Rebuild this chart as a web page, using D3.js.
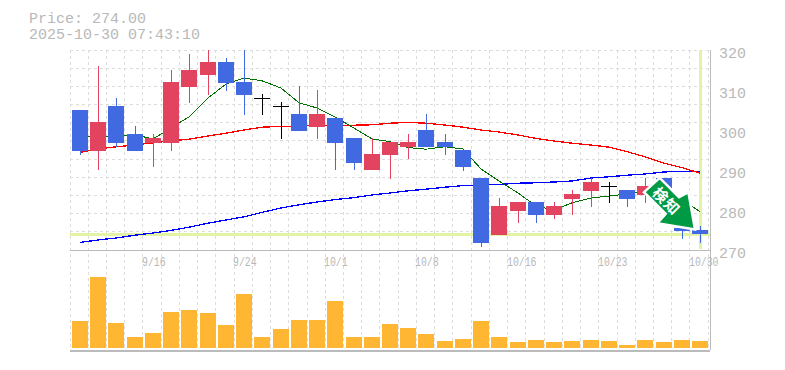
<!DOCTYPE html>
<html>
<head>
<meta charset="utf-8">
<script src="https://cdn.jsdelivr.net/npm/d3@7"></script>
<style>
  html, body { margin: 0; padding: 0; background: #fff; }
  svg { display: block; }
  text { font-family: "Liberation Mono", monospace; fill: #b8b8b8; }
</style>
</head>
<body>
<div class="canva"></div>
<script>
const titleLines = ['Price: 274.00', '2025-10-30 07:43:10']

const opens  = [305,294.75,306,299,296.75,296.75,310.75,313.75,317,312,308,306,304,300.75,303,298,290,293.75,295.75,300,297,295,288,273.75,279.75,282,278.75,282.75,284.75,286,285,283.75,288,275.5,275]
const highs  = [305,316,308,301,299,315,319,320,318,320,309,307,311,310,303,298,298,297,299,304,299,295,288,283,282,282,282,285,288,287,285,288,288,275.5,276]
const lows   = [293.8,290,295.8,294.75,290.75,294.75,306.75,308.75,309.75,303.75,303.75,297.75,299.75,297.75,290,290,290,287.75,292.75,295.75,293.75,289.75,270.8,273.75,276.75,276.75,277.75,278.75,280.75,281.75,280.75,281.75,283,272.75,271.75]
const closes = [294.75,302,296.75,294.75,298,312,315,317,311.75,308.75,308,306,299.75,304,296.75,291.75,294,297,297,295.75,295.75,290.75,271.75,281,282,278.75,281,284,287,286,282.75,286,285,274.75,274]

const maShort = [298.5,298.25,298.5,298.8,297.75,300.5,303.3,308,311.5,313,312.3,310.5,306.8,305.5,303.25,300.5,297.75,297.1,295.6,295.2,295.8,295.25,290.25,287.25,284.25,281,280,281.8,283,283.5,284,284.75,285,282.5,279.6]
const maMid   = [294.4,295.3,295.8,296.25,296.8,297.3,297.7,298.5,299.2,300,300.7,300.9,301,301.2,301.2,301.2,301.3,301.7,301.9,301.7,301.25,300.7,300,299.5,298.75,297.9,297.25,296.7,296.25,295.7,294.6,293.3,291.7,290.6,289.2]
const maLong  = [271.9,272.5,273,273.7,274.25,274.9,275.7,276.7,277.5,278.3,279.4,280.5,281.3,282,282.6,283.1,283.75,284.25,284.8,285.2,285.7,286.1,286.25,286.4,286.7,286.8,287,287.25,288,288.3,288.7,289,289.5,289.7,289.7]

const volume = [27,71,25,11,15,36,38,35,23,54,11,19,28,28,47,11,11,24,20,14,7,9,27,11,6,8,6,7,8,7,3,8,6,8,7]

const dates = ['9/16','9/24','10/1','10/8','10/16','10/23','10/30']
const dateIdx = [4,9,14,19,24,29,34]
const priceTicks = [270,280,290,300,310,320]
const lastPrice = 274

const upColor = '#e2445f'
const downColor = '#4169e1'
const gridColor = '#ddd'
const axisColor = '#bbb'
const markColor = '#e2f3a3'

const width = 785
const height = 370
const plotLeft = 70, plotRight = 710, plotTop = 50, plotMid = 250, plotBottom = 350

const svg = d3.select('.canva').append('svg')
    .attr('width', width)
    .attr('height', height)

const idx = d3.range(closes.length)

const x = d3.scaleBand()
    .domain(idx)
    .range([plotLeft + 0.9, plotRight - 0.9])
const cx = i => Math.round(x(i) + x.bandwidth() / 2)
const y = d3.scaleLinear().domain([270, 320]).range([plotMid, plotTop])
const yVol = d3.scaleLinear().domain([0, 100]).range([plotBottom - 2, plotMid - 2])

// grid
const grid = svg.append('g')
    .attr('stroke', gridColor)
    .attr('stroke-dasharray', '3,3')
    .attr('shape-rendering', 'crispEdges')

grid.selectAll('.v')
    .data(d3.range(closes.length + 1))
    .enter().append('line')
    .attr('class', 'v')
    .attr('x1', d => plotLeft + d * x.step())
    .attr('x2', d => plotLeft + d * x.step())
    .attr('y1', plotTop)
    .attr('y2', plotBottom)

const rows = d3.scaleLinear().domain([0, 11]).range([plotTop, plotMid])
grid.selectAll('.h')
    .data(d3.range(11))
    .enter().append('line')
    .attr('class', 'h')
    .attr('x1', plotLeft)
    .attr('x2', plotRight)
    .attr('y1', d => rows(d))
    .attr('y2', d => rows(d))

// frame
const frame = svg.append('g')
    .attr('stroke', axisColor)
    .attr('shape-rendering', 'crispEdges')
frame.append('line').attr('x1', plotLeft).attr('x2', plotRight).attr('y1', plotMid).attr('y2', plotMid)
frame.append('line').attr('x1', plotLeft).attr('x2', plotRight).attr('y1', plotBottom).attr('y2', plotBottom)
frame.append('line').attr('x1', plotLeft).attr('x2', plotRight).attr('y1', plotBottom + 1).attr('y2', plotBottom + 1)
frame.append('line').attr('x1', plotRight).attr('x2', plotRight).attr('y1', plotTop).attr('y2', plotBottom)

// current price / time markers
svg.append('rect')
    .attr('x', plotLeft)
    .attr('width', plotRight - plotLeft)
    .attr('y', y(lastPrice) - 1)
    .attr('height', 3)
    .attr('fill', markColor)
svg.append('rect')
    .attr('x', cx(34) - 1)
    .attr('width', 3)
    .attr('y', plotTop)
    .attr('height', plotMid - plotTop - 1)
    .attr('fill', markColor)

// moving averages, stepped like the original
const line = d3.line().x((d, i) => cx(i)).y(d => y(d))
const maGroup = svg.append('g')
    .attr('fill', 'none')
    .attr('shape-rendering', 'crispEdges')
maGroup.append('path').attr('d', line(maLong)).attr('stroke', '#0000ff').attr('stroke-width', 1.3)
maGroup.append('path').attr('d', line(maMid)).attr('stroke', '#ff0000').attr('stroke-width', 1.3)
maGroup.append('path').attr('d', line(maShort)).attr('stroke', '#007000').attr('stroke-width', 1)

// candles, black when open == close
const colorOf = i => closes[i] > opens[i] ? upColor : (closes[i] < opens[i] ? downColor : '#000')

const candles = svg.append('g').attr('shape-rendering', 'crispEdges')
candles.selectAll('.wick')
    .data(idx)
    .enter().append('line')
    .attr('class', 'wick')
    .attr('x1', d => cx(d) + 0.5)
    .attr('x2', d => cx(d) + 0.5)
    .attr('y1', d => y(highs[d]))
    .attr('y2', d => y(lows[d]))
    .attr('stroke', d => colorOf(d))
candles.selectAll('.body')
    .data(idx)
    .enter().append('rect')
    .attr('class', 'body')
    .attr('x', d => cx(d) - 8)
    .attr('width', 16)
    .attr('y', d => y(Math.max(opens[d], closes[d])))
    .attr('height', d => Math.max(1, Math.abs(y(opens[d]) - y(closes[d]))))
    .attr('fill', d => colorOf(d))

// volume
svg.append('g').attr('shape-rendering', 'crispEdges')
    .selectAll('rect')
    .data(volume)
    .enter().append('rect')
    .attr('x', (d, i) => cx(i) - 8)
    .attr('width', 16)
    .attr('y', d => yVol(d))
    .attr('height', d => yVol(0) - yVol(d))
    .attr('fill', '#ffb733')

// signal arrow, placed relative to the last candle
const arrow = svg.append('g')
    .attr('transform', `translate(${cx(34) - 5}, ${y(lastPrice) - 4.5})`)
const arrowPath = 'M0,0 L-37.6,-6.3 L-29.3,-15.6 L-51,-37.3 L-35.3,-51.6 L-16,-32.3 L-6.6,-37.3 Z'
arrow.append('path')
    .attr('d', arrowPath)
    .attr('fill', '#009944')
    .attr('stroke', '#fff')
    .attr('stroke-width', 2.5)
arrow.append('text')
    .attr('transform', 'translate(-29, -28) rotate(45)')
    .attr('text-anchor', 'middle')
    .attr('y', 5)
    .style('font-family', '"Noto Sans CJK JP"')
    .style('font-weight', 'bold')
    .style('font-size', '15px')
    .style('letter-spacing', '1px')
    .style('fill', '#fff')
    .text('検知')

// labels
svg.selectAll('.title')
    .data(titleLines)
    .enter().append('text')
    .attr('class', 'title')
    .attr('x', 29)
    .attr('y', (d, i) => 22.5 + i * 16)
    .attr('textLength', d => d.length * 9)
    .attr('lengthAdjust', 'spacingAndGlyphs')
    .style('font-size', '14px')
    .text(d => d)

svg.selectAll('.price')
    .data(priceTicks)
    .enter().append('text')
    .attr('class', 'price')
    .attr('x', 719)
    .attr('y', d => y(d) + 8)
    .style('font-size', '15px')
    .text(d => d)

svg.selectAll('.date')
    .data(dates)
    .enter().append('text')
    .attr('class', 'date')
    .attr('x', (d, i) => cx(dateIdx[i]) - 11)
    .attr('y', 266)
    .attr('textLength', d => d.length * 5.9)
    .attr('lengthAdjust', 'spacingAndGlyphs')
    .style('font-size', '12px')
    .text(d => d)
</script>
</body>
</html>
